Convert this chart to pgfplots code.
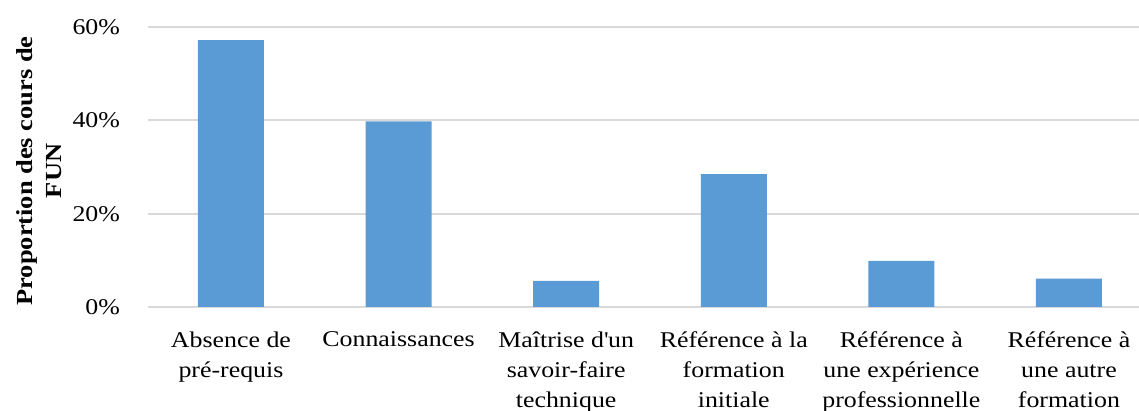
\documentclass[border=0pt]{standalone}
\usepackage{fontspec}
\setmainfont{Liberation Serif}[FakeStretch=1.15]
\usepackage{pgfplots}
\pgfplotsset{compat=1.18}
\usetikzlibrary{calc}
\definecolor{barblue}{HTML}{5B9BD5}
\definecolor{gridgray}{HTML}{D9D9D9}
\begin{document}
\begin{tikzpicture}
\begin{axis}[
  scale only axis,
  width=495.5pt, height=140pt,
  xmin=-0.495, xmax=5.418,
  ymin=0, ymax=60,
  ybar, bar width=33pt,
  xtick={0,1,2,3,4,5},
  xticklabels={{Absence de\\pré-requis},{Connaissances},{Maîtrise d\textquotesingle un\\savoir-faire\\technique},{Référence à la\\formation\\initiale},{Référence à\\une expérience\\professionnelle},{Référence à\\une autre\\formation}},
  ytick={0,20,40,60},
  yticklabels={0\%,20\%,40\%,60\%},
  ymajorgrids,
  grid style={gridgray, line width=1pt},
  axis line style={draw=none},
  tick style={draw=none},
  xticklabel style={align=center, font=\fontsize{11.25}{15}\selectfont, yshift=-4.5pt},
  yticklabel style={font=\fontsize{11.25}{15}\selectfont, xshift=-10.5pt},
  ylabel={Proportion des cours de\\FUN},
  ylabel style={align=center, font=\fontsize{11.5}{14.5}\selectfont\bfseries, at={(axis description cs:-0.1095,0.486)}, anchor=center},
]
\addplot[fill=barblue, draw=none] coordinates {(0,57.2) (1,39.8) (2,5.6) (3,28.5) (4,9.9) (5,6.1)};
\coordinate (bl) at (rel axis cs:0,0);
\coordinate (tr) at (rel axis cs:1,1);
\end{axis}
\pgfresetboundingbox
\path ($(bl)+(-74pt,-52pt)$) rectangle ($(tr)+(0pt,13.5pt)$);
\end{tikzpicture}
\end{document}
